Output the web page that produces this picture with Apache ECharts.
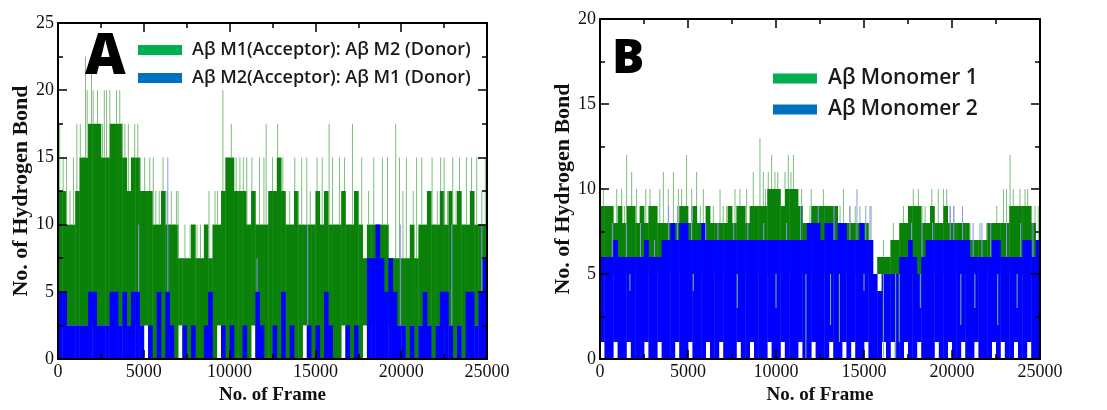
<!DOCTYPE html>
<html><head><meta charset="utf-8">
<script src="https://cdn.jsdelivr.net/npm/echarts@6/dist/echarts.min.js"></script>
<style>html,body{margin:0;padding:0;background:#fff}#c{width:1107px;height:410px}</style>
</head><body><div id="c"></div>
<script>
// ---------- DATA ----------
const BIN = 250; // frames per bin (100 bins over 0..25000)

// Panel A : per-bin band (low / high) of hydrogen bond counts
const A_green_hi = [12.5,12.5,10,10,12.5, 15,15,17.5,17.5,17.5, 15,15,17.5,17.5,17.5, 15,12.5,15,15,12.5,
  12.5,12.5,10,10,12.5, 10,10,10,7.5,7.5, 7.5,10,7.5,7.5,10, 7.5,10,10,12.5,15,
  15,12.5,12.5,12.5,10, 12.5,10,10,10,12.5, 12.5,15,12.5,10,10, 12.5,10,10,10,10,
  12.5,10,12.5,10,10, 10,12.5,10,10,12.5, 10,7.5,10,10,10, 10,10,7.5,7.5,7.5,
  7.5,7.5,10,7.5,10, 10,12.5,10,10,12.5, 10,12.5,10,12.5,10, 10,12.5,10,10,10];
const A_green_lo = [2.5,2.5,2.5,2.5,2.5, 2.5,2.5,2.5,2.5,2.5, 2.5,2.5,2.5,2.5,2.5, 2.5,2.5,2.5,2.5,2.5,
  2.5,0,0,0,0, 0,0,0,2.5,0, 0,0,0,0,0, 0,0,2.5,0,0,
  0,0,0,0,0, 2.5,0,0,0,0, 0,0,0,0,0, 0,0,2.5,0,0,
  0,0,0,0,0, 0,2.5,0,0,0, 0,2.5,2.5,2.5,2.5, 2.5,2.5,2.5,2.5,2.5,
  2.5,0,2.5,0,2.5, 2.5,2.5,0,2.5,2.5, 2.5,2.5,0,2.5,0, 2.5,2.5,2.5,2.5,2.5];
const A_blue_hi = [5,5,2.5,2.5,2.5, 2.5,2.5,5,5,2.5, 2.5,2.5,5,5,2.5, 5,2.5,5,5,2.5,
  0,2.5,0,5,0, 5,2.5,0,0,2.5, 0,2.5,0,0,2.5, 5,0,0,2.5,0,
  2.5,0,0,2.5,0, 0,5,2.5,0,0, 2.5,0,5,0,2.5, 0,0,0,2.5,0,
  2.5,0,5,2.5,0, 0,0,2.5,0,2.5, 0,0,7.5,7.5,10, 7.5,5,7.5,5,2.5,
  2.5,0,2.5,0,2.5, 5,2.5,0,2.5,5, 5,2.5,0,2.5,0, 5,5,2.5,5,7.5];
const A_blue_lo = new Array(100).fill(0);
const A_green_spikes = [[100,17.5],[300,15],[500,15],[700,12.5],[900,15],[1100,17.5],[1300,17.5],[1600,22.5],[1700,20],[1950,22.5],
  [2050,20],[2300,20],[2450,17.5],[2600,17.5],[2700,20],[2830,20],[3020,20],[3150,17.5],[3300,17.5],[3410,20],
  [3600,20],[3750,17.5],[3900,17.5],[4100,17.5],[4250,15],[4470,17.5],[4650,17.5],[4800,15],[5050,15],[5350,15],
  [5550,15],[5700,12.5],[5900,12.5],[6120,15],[6350,12.5],[6600,12.5],[6900,12.5],[7000,12.5],[7400,10],[7700,10],
  [8100,10],[8300,10],[8600,10],[8800,12.5],[9150,12.5],[9300,12.5],[9610,20],[9900,15],[10100,17.5],[10380,15],
  [10600,15],[10800,15],[11000,15],[11300,15],[11740,15],[12000,15],[12130,17.5],[12500,15],[12800,17.5],[13100,15],
  [13500,12.5],[13800,15],[14000,12.5],[14200,15],[14500,15],[14700,12.5],[15100,15],[15400,15],[15800,17.5],[16000,15],
  [16400,15],[16700,15],[17160,17.5],[17400,12.5],[17700,15],[18100,12.5],[18400,15],[18900,15],[19200,15],[19680,17.5],
  [19900,15],[20100,12.5],[20300,15],[20700,12.5],[20900,15],[21200,15],[21500,12.5],[21800,15],[22100,12.5],[22300,15],
  [22500,15],[22700,12.5],[23000,15],[23200,12.5],[23400,15],[23800,15],[24100,15],[24400,15],[24700,12.5],[24900,15]];
const A_blue_spikes = [[4700,10],[6400,15],[11600,7.5],[14550,10],[19950,10],[22950,10],[24700,10]];

// Panel B
const B_blue_hi = [6,6,6,7,6, 6,6,6,6,6, 7,6,6,6,7, 7,8,7,8,8,
  7,7,7,8,7, 7,7,7,7,7, 7,7,7,7,7, 7,7,7,7,7,
  7,7,7,7,7, 7,7,8,8,8, 7,8,8,7,8, 8,7,7,7,8,
  7,7,5,4,5, 5,5,5,6,6, 7,6,5,6,7, 7,7,7,7,7,
  7,7,7,7,6, 6,6,6,6,7, 7,6,6,6,6, 6,7,7,6,7];
const B_blue_lo = [1,0,0,1,0, 0,1,0,0,0, 1,0,0,1,0, 0,0,1,0,0, 1,0,0,0,1, 0,0,1,0,0,
  0,1,0,0,1, 0,0,0,1,0, 0,1,0,0,0, 1,0,0,1,0, 0,0,1,0,0, 1,0,1,0,0,
  1,0,0,0,1, 0,1,0,0,1, 0,0,1,0,0, 0,1,0,0,1, 0,0,1,0,0, 1,0,0,0,1,
  0,1,0,0,1, 0,0,1,0,0];
const B_green_hi = [9,9,9,8,9, 8,9,9,8,9, 8,9,9,8,8, 8,8,8,9,9,
  8,9,8,8,9, 8,8,8,8,9, 8,9,9,8,9, 9,9,9,10,10, 10,9,10,10,10, 9,8,8,9,9,
  9,9,9,9,8, 8,8,8,8,8, 8,7,6,6,6, 6,7,7,8,8, 9,9,9,8,8, 9,8,8,9,8,
  8,8,8,8,7, 7,7,7,8,8, 8,8,8,9,9, 9,9,9,8,7];
const B_green_lo = [5,5,5,5,5, 5,5,5,5,5, 5,5,5,5,5, 5,5,5,5,5, 5,5,5,5,5, 5,5,5,5,5,
  5,5,5,5,5, 5,5,5,5,5, 5,5,5,5,5, 5,5,5,5,5, 5,5,5,5,5, 5,5,5,5,5,
  5,5,6,5,5, 5,5,5,5,5, 5,5,5,5,5, 5,5,5,5,5, 5,5,5,5,5, 5,5,5,5,5,
  5,5,5,5,5, 5,5,5,5,5];
const B_green_spikes = [[190,10],[400,9],[660,9],[950,10],[1230,10],[1400,9],[1515,12],[1800,11],[2080,10],[2460,9],
  [2600,10],[2840,10],[3220,9],[3400,10],[3600,11],[3880,10],[4170,11],[4450,10],[4640,10],[4920,12],
  [5210,10],[5490,11],[5700,9],[5870,10],[6200,9],[6440,9],[6820,10],[7000,9],[7200,9],[7670,10],
  [7950,10],[8000,9],[8330,10],[8500,9],[8710,11],[9090,13],[9280,11],[9400,10],[9560,11],[9750,12],
  [9940,11],[10100,11],[10230,10],[10510,11],[10700,12],[10850,11],[10990,12],[11170,10],[11460,10],[11930,9],
  [12000,10],[12310,9],[12690,10],[13070,9],[13300,9],[13640,9],[13830,10],[14200,9],[14500,9],[14770,9],
  [15340,9],[15820,6],[16100,7],[16670,8],[17000,8],[17240,9],[17520,9],[17800,10],[18090,10],[18300,9],
  [18470,9],[18850,10],[19220,10],[19510,10],[19700,10],[19890,9],[20100,9],[20450,8],[21020,8],[21590,8],
  [21970,8],[22200,8],[22540,9],[22920,10],[23100,10],[23300,12],[23480,10],[23860,10],[24150,10],[24300,10],
  [24430,9],[24720,9],[24900,9]];
const B_blue_spikes = [[700,8],[1500,8],[2300,8],[3100,7],[3900,9],[4400,9],[5200,9],[6000,8],[6700,8],[7600,8],
  [8400,8],[9300,8],[10600,8],[11400,9],[12400,9],[13300,9],[14200,9],[14600,10],[15100,9],[15400,9],
  [17700,8],[18300,8],[18900,8],[19900,9],[20100,9],[20600,9],[21200,8],[21700,8],[22200,8],[23100,8],
  [23900,8],[24600,8]];
const B_green_dips = [[1700,4],[2300,5],[5300,4],[7800,3],[9500,5],[10000,3],[11700,0],[13100,2],[13600,1],[15000,4],
  [16100,0],[16800,0],[17000,1],[18200,3],[20500,2],[21300,3],[22600,2],[23700,3]];

const LEG_A = ['Aβ M1(Acceptor): Aβ M2 (Donor)', 'Aβ M2(Acceptor): Aβ M1 (Donor)'];
const LEG_B = ['Aβ Monomer 1', 'Aβ Monomer 2'];

// ---------- STYLE ----------
const DK_GREEN = '#0a820a', DK_BLUE = '#0000ff';
const LT_GREEN = '#7dbd7d', LT_BLUE = '#8f8fff';
const LEG_GREEN = '#00b050', LEG_BLUE = '#0070c0';

function bandSeries(name, lo, hi, color, ax) {
  return {
    type: 'custom', name, xAxisIndex: ax, yAxisIndex: ax, clip: true, silent: true, z: 1,
    itemStyle: {color}, encode: {x: 0, y: [1, 2]},
    data: lo.map((l, i) => [i * BIN, l, hi[i]]),
    renderItem: (p, api) => {
      const x0 = api.value(0), l = api.value(1), h = api.value(2);
      if (h <= l) return {type: 'group', children: []};
      const a = api.coord([x0, h]), b = api.coord([x0 + BIN, l]);
      return {type: 'rect', shape: {x: a[0], y: a[1], width: b[0] - a[0] + 0.4, height: b[1] - a[1]},
        style: {fill: color}};
    }
  };
}
function lineSeries(pairs, ref, color, ax, width) {
  return {
    type: 'custom', xAxisIndex: ax, yAxisIndex: ax, clip: true, silent: true, z: 1,
    encode: {x: 0, y: 1},
    data: pairs.map(p => [p[0], p[1], ref[Math.min(99, Math.floor(p[0] / BIN))]]),
    renderItem: (p, api) => {
      const a = api.coord([api.value(0), api.value(1)]), b = api.coord([api.value(0), api.value(2)]);
      return {type: 'line', shape: {x1: a[0], y1: a[1], x2: b[0], y2: b[1]},
        style: {stroke: color, lineWidth: width || 1}};
    }
  };
}

const serif = 'Liberation Serif';
function axesFor(gi, ymax) {
  const tick = {show: true, inside: true, length: 9, lineStyle: {color: '#000', width: 1.5}};
  const minor = {show: true, splitNumber: 2, length: 5, lineStyle: {color: '#000', width: 1.5}};
  const line = {show: true, onZero: false, lineStyle: {color: '#000', width: 2}};
  const xs = [
    {type: 'value', gridIndex: gi, min: 0, max: 25000, interval: 5000, position: 'bottom', z: 10,
      axisLine: line, axisTick: tick, minorTick: minor, splitLine: {show: false},
      axisLabel: {fontFamily: serif, fontSize: 18, color: '#111', margin: 4, formatter: v => String(v)},
      name: 'No. of Frame', nameLocation: 'middle', nameGap: 27,
      nameTextStyle: {fontFamily: serif, fontWeight: 'bold', fontSize: 19, color: '#111'}},
    {type: 'value', gridIndex: gi, min: 0, max: 25000, interval: 5000, position: 'top', z: 10,
      axisLine: line, axisTick: tick, minorTick: minor, splitLine: {show: false}, axisLabel: {show: false}}
  ];
  const ys = [
    {type: 'value', gridIndex: gi, min: 0, max: ymax, interval: 5, position: 'left', z: 10,
      axisLine: line, axisTick: tick, minorTick: minor, splitLine: {show: false},
      axisLabel: {fontFamily: serif, fontSize: 18, color: '#111', margin: 4},
      name: 'No. of Hydrogen Bond', nameLocation: 'middle', nameGap: 24,
      nameTextStyle: {fontFamily: serif, fontWeight: 'bold', fontSize: 22, color: '#111'}},
    {type: 'value', gridIndex: gi, min: 0, max: ymax, interval: 5, position: 'right', z: 10,
      axisLine: line, axisTick: tick, minorTick: minor, splitLine: {show: false}, axisLabel: {show: false}}
  ];
  return {xs, ys};
}
const aA = axesFor(0, 25), aB = axesFor(1, 20);

const chart = echarts.init(document.getElementById('c'), null, {renderer: 'canvas'});
chart.setOption({
  animation: false,
  backgroundColor: '#fff',
  grid: [
    {left: 58, right: 620, top: 23, bottom: 47},
    {left: 600, right: 67, top: 19, bottom: 45}
  ],
  xAxis: [aA.xs[0], aB.xs[0], aA.xs[1], aB.xs[1]],
  yAxis: [aA.ys[0], aB.ys[0], aA.ys[1], aB.ys[1]],
  legend: [
    {data: [{name: LEG_A[0], itemStyle: {color: LEG_GREEN}}, {name: LEG_A[1], itemStyle: {color: LEG_BLUE}}],
      orient: 'vertical', left: 133, top: 36, icon: 'rect', itemWidth: 44, itemHeight: 10, itemGap: 10,
      selectedMode: false, z: 20,
      textStyle: {fontFamily: 'Open Sans', fontWeight: 600, fontSize: 18, color: '#1a1a1a', padding: [0, 0, 0, 5]}},
    {data: [{name: LEG_B[0], itemStyle: {color: LEG_GREEN}}, {name: LEG_B[1], itemStyle: {color: LEG_BLUE}}],
      orient: 'vertical', left: 768, top: 63, icon: 'rect', itemWidth: 44, itemHeight: 10, itemGap: 10,
      selectedMode: false, z: 20,
      textStyle: {fontFamily: 'Open Sans', fontWeight: 600, fontSize: 21, color: '#1a1a1a', padding: [0, 0, 0, 6]}}
  ],
  graphic: [
    {type: 'text', left: 85, top: 30, z: 30, style: {text: 'A', font: '800 56px "Open Sans"', fill: '#000'}},
    {type: 'text', left: 612, top: 35, z: 30, style: {text: 'B', font: '800 48px "Open Sans"', fill: '#000'}}
  ],
  series: [
    bandSeries(LEG_A[0], A_green_lo, A_green_hi, DK_GREEN, 0),
    bandSeries(LEG_A[1], A_blue_lo, A_blue_hi, DK_BLUE, 0),
    lineSeries(A_green_spikes, A_green_hi, LT_GREEN, 0),
    lineSeries(A_blue_spikes, A_blue_hi, LT_BLUE, 0),
    bandSeries(LEG_B[0], B_green_lo, B_green_hi, DK_GREEN, 1),
    bandSeries(LEG_B[1], B_blue_lo, B_blue_hi, DK_BLUE, 1),
    lineSeries(B_green_spikes, B_green_hi, LT_GREEN, 1),
    lineSeries(B_blue_spikes, B_blue_hi, LT_BLUE, 1),
    lineSeries(B_green_dips, B_green_lo, LT_GREEN, 1)
  ]
});
</script></body></html>
